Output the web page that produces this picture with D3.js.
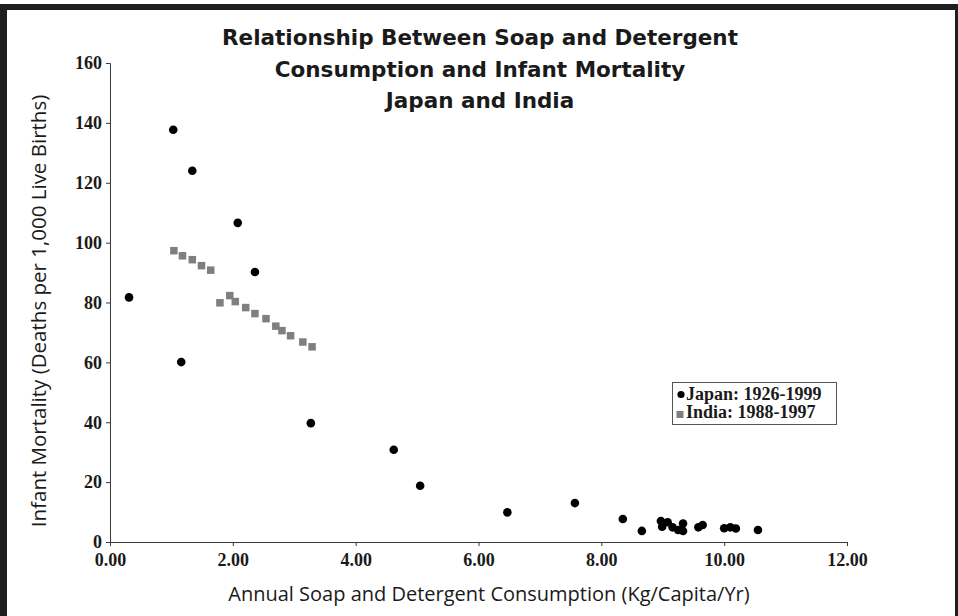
<!DOCTYPE html>
<html>
<head>
<meta charset="utf-8">
<script src="https://cdn.jsdelivr.net/npm/d3@7"></script>
<style>
  html, body { margin: 0; padding: 0; background: #fff; }
  svg { display: block; }
</style>
</head>
<body>
<svg id="chart" width="958" height="616"></svg>
<script>
// Soap & detergent consumption (kg per capita per year) vs infant mortality
const japanX = [0.31, 1.03, 1.16, 1.34, 2.08, 2.36, 3.27, 4.62, 5.05, 6.47, 7.57, 8.35, 8.66, 8.97, 8.99, 9.08, 9.16, 9.25, 9.33, 9.33, 9.58, 9.65, 10.00, 10.10, 10.19, 10.55];
const japanY = [81.7, 137.7, 60.1, 124.0, 106.6, 90.2, 39.7, 30.8, 18.8, 9.9, 13.0, 7.7, 3.7, 7.0, 5.1, 6.6, 4.9, 4.0, 6.2, 3.7, 4.9, 5.7, 4.6, 4.9, 4.5, 4.0];

const indiaX = [1.04, 1.18, 1.34, 1.49, 1.64, 1.79, 1.95, 2.04, 2.21, 2.36, 2.54, 2.70, 2.80, 2.94, 3.14, 3.29];
const indiaY = [97.3, 95.6, 94.3, 92.3, 90.8, 79.9, 82.3, 80.3, 78.3, 76.3, 74.6, 72.1, 70.6, 68.9, 66.8, 65.2];

const xTicks = [0, 2, 4, 6, 8, 10, 12];
const yTicks = [0, 20, 40, 60, 80, 100, 120, 140, 160];

const titleLines = ["Relationship Between Soap and Detergent", "Consumption and Infant Mortality", "Japan and India"];
const xTitle = "Annual Soap and Detergent Consumption (Kg/Capita/Yr)";
const yTitle = "Infant Mortality (Deaths per 1,000 Live Births)";
const legendLabels = ["Japan: 1926-1999", "India: 1988-1997"];

const svg = d3.select("#chart");
const W = 958, H = 616;
const serif = "'Liberation Serif', 'Times New Roman', serif";
const sans = "'Open Sans', 'DejaVu Sans', sans-serif";

svg.append("rect").attr("width", W).attr("height", H).attr("fill", "#fff");

// dark outer frame
const frameColor = "#1f1f1f";
svg.append("rect").attr("x", 0).attr("y", 4).attr("width", W).attr("height", 6).attr("fill", frameColor);
svg.append("rect").attr("x", 0).attr("y", 4).attr("width", 7).attr("height", H).attr("fill", frameColor);
svg.append("rect").attr("x", 955).attr("y", 4).attr("width", 3).attr("height", H).attr("fill", frameColor);

const x = d3.scaleLinear().domain([0, 12]).range([110, 847]);
const y = d3.scaleLinear().domain([0, 160]).range([542, 63]);

// axes
const xAxis = svg.append("g")
  .attr("transform", `translate(0,${y(0)})`)
  .call(d3.axisBottom(x).tickValues(xTicks).tickFormat(d3.format(".2f")).tickSizeOuter(0).tickSize(4).tickPadding(7));
const yAxis = svg.append("g")
  .attr("transform", `translate(${x(0)},0)`)
  .call(d3.axisLeft(y).tickValues(yTicks).tickSizeOuter(0).tickSize(4).tickPadding(4));

[xAxis, yAxis].forEach(g => {
  g.select(".domain").attr("stroke", "#3a3a3a");
  g.selectAll(".tick line").attr("stroke", "#3a3a3a");
  g.selectAll(".tick text")
    .attr("fill", "#1a1a1a")
    .style("font-family", serif)
    .style("font-weight", "bold")
    .style("font-size", "18px");
});
xAxis.selectAll(".tick text").attr("dy", "0.71em");
yAxis.selectAll(".tick text").attr("dy", "0.32em");

// title
svg.append("g").selectAll("text")
  .data(titleLines)
  .join("text")
  .attr("x", 480)
  .attr("y", (d, i) => 45 + i * 31.5)
  .attr("text-anchor", "middle")
  .style("font-family", "'DejaVu Sans', Verdana, sans-serif")
  .style("font-weight", "bold")
  .style("font-size", "21.5px")
  .attr("fill", "#1a1a1a")
  .text(d => d);

// axis titles
svg.append("text")
  .attr("x", 489).attr("y", 601)
  .attr("text-anchor", "middle")
  .style("font-family", sans).style("font-size", "20px")
  .attr("fill", "#1a1a1a")
  .text(xTitle);

svg.append("text")
  .attr("transform", "translate(46,311) rotate(-90)")
  .attr("text-anchor", "middle")
  .style("font-family", sans).style("font-size", "20.5px")
  .attr("fill", "#1a1a1a")
  .text(yTitle);

// India series: grey squares
const sq = 7.5;
svg.append("g").selectAll("rect")
  .data(d3.range(indiaX.length))
  .join("rect")
  .attr("x", i => x(indiaX[i]) - sq / 2)
  .attr("y", i => y(indiaY[i]) - sq / 2)
  .attr("width", sq).attr("height", sq)
  .attr("fill", "#7f7f7f");

// Japan series: black dots
svg.append("g").selectAll("circle")
  .data(d3.range(japanX.length))
  .join("circle")
  .attr("cx", i => x(japanX[i]))
  .attr("cy", i => y(japanY[i]))
  .attr("r", 4.3)
  .attr("fill", "#000");

// legend
const lg = svg.append("g");
lg.append("rect")
  .attr("x", 672.5).attr("y", 382.5).attr("width", 164).attr("height", 42)
  .attr("fill", "#fff").attr("stroke", "#555").attr("stroke-width", 1);
lg.append("circle").attr("cx", 681).attr("cy", 394.5).attr("r", 3.6).attr("fill", "#000");
lg.append("rect").attr("x", 676.5).attr("y", 411).attr("width", 7).attr("height", 7).attr("fill", "#7f7f7f");
lg.selectAll("text")
  .data(legendLabels)
  .join("text")
  .attr("x", 686)
  .attr("y", (d, i) => 399.5 + i * 18)
  .style("font-family", serif).style("font-weight", "bold").style("font-size", "18px")
  .attr("fill", "#1a1a1a")
  .text(d => d);
</script>
</body>
</html>
